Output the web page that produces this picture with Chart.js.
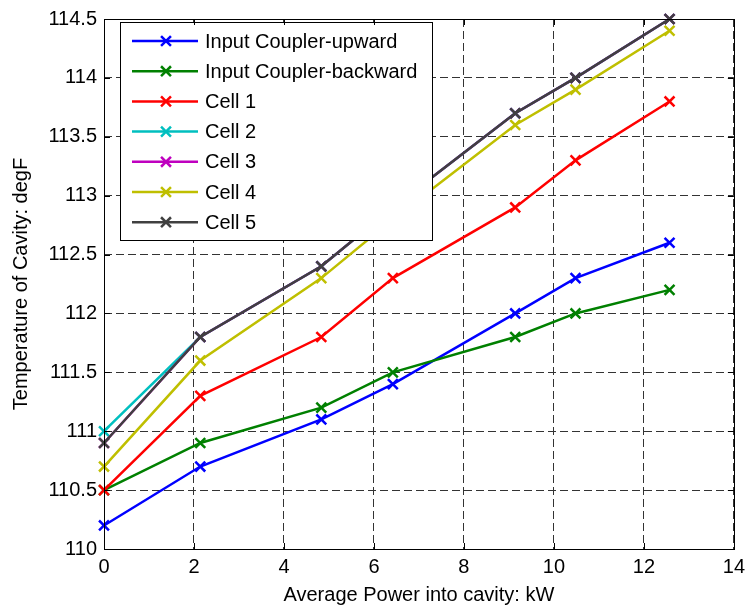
<!DOCTYPE html>
<html>
<head>
<meta charset="utf-8">
<script src="https://cdn.jsdelivr.net/npm/chart.js@4/dist/chart.umd.min.js"></script>
<style>
  html, body { margin: 0; padding: 0; background: #fff; }
  #c { display: block; }
</style>
</head>
<body>
<canvas id="c" width="751" height="611"></canvas>
<script>
// Average power into the cavity (kW) at each measurement
const powerKW = [0, 2.14, 4.83, 6.42, 9.14, 10.48, 12.57];

// Cavity temperatures (degF) per sensor location
const seriesNames = [
  'Input Coupler-upward',
  'Input Coupler-backward',
  'Cell 1',
  'Cell 2',
  'Cell 3',
  'Cell 4',
  'Cell 5'
];
const couplerUpward   = [110.2, 110.7, 111.1, 111.4, 112.0, 112.3, 112.6];
const couplerBackward = [110.5, 110.9, 111.2, 111.5, 111.8, 112.0, 112.2];
const cell1           = [110.5, 111.3, 111.8, 112.3, 112.9, 113.3, 113.8];
const cell2           = [111.0, 111.8, 112.4, 112.9, 113.7, 114.0, 114.5];
const cell3           = [110.9, 111.8, 112.4, 112.9, 113.7, 114.0, 114.5];
const cell4           = [110.7, 111.6, 112.3, 112.8, 113.6, 113.9, 114.4];
const cell5           = [110.9, 111.8, 112.4, 112.9, 113.7, 114.0, 114.5];

const seriesColors = ['#0000ff', '#008000', '#ff0000', '#00bfbf', '#bf00bf', '#bfbf00', '#404040'];

const xTicks = [0, 2, 4, 6, 8, 10, 12, 14];
const yTicks = [110, 110.5, 111, 111.5, 112, 112.5, 113, 113.5, 114, 114.5];

const xTitle = 'Average Power into cavity: kW';
const yTitle = 'Temperature of Cavity: degF';

const FONT = "'Liberation Sans', Arial, Helvetica, sans-serif";
const allSeries = [couplerUpward, couplerBackward, cell1, cell2, cell3, cell4, cell5];

const MARK_R = 7;

const datasets = allSeries.map((vals, i) => ({
  label: seriesNames[i],
  data: vals.map((y, k) => ({ x: powerKW[k], y })),
  borderColor: seriesColors[i],
  backgroundColor: seriesColors[i],
  borderWidth: 2.5,
  pointStyle: 'crossRot',
  pointRadius: MARK_R,
  pointBorderWidth: 2.5,
  pointHoverRadius: MARK_R,
  tension: 0,
  fill: false,
  clip: false,
  order: allSeries.length - i   // later series are painted on top
}));

// MATLAB-style frame: full box with inward tick marks, plus a boxed legend
const framePlugin = {
  id: 'frame',
  afterDatasetsDraw(chart) {
    const ctx = chart.ctx;
    const L = { left: 120.5, top: 22.5, right: 432.5, bottom: 240.5 };
    ctx.save();
    ctx.fillStyle = '#ffffff';
    ctx.fillRect(L.left, L.top, L.right - L.left, L.bottom - L.top);
    ctx.strokeStyle = '#000000';
    ctx.lineWidth = 1;
    ctx.strokeRect(L.left, L.top, L.right - L.left, L.bottom - L.top);
    ctx.font = '20px ' + FONT;
    ctx.textBaseline = 'middle';
    ctx.textAlign = 'left';
    chart.data.datasets.forEach((ds, i) => {
      const y = 41 + i * 30.2;
      ctx.strokeStyle = ds.borderColor;
      ctx.lineWidth = 2.5;
      ctx.beginPath();
      ctx.moveTo(132, y);
      ctx.lineTo(198, y);
      ctx.stroke();
      Chart.helpers.drawPoint(ctx, { pointStyle: 'crossRot', radius: MARK_R, borderWidth: 2.5 }, 166, y);
      ctx.fillStyle = '#000000';
      ctx.fillText(ds.label, 205, y + 1);
    });
    ctx.restore();
  },
  afterDraw(chart) {
    const { ctx, chartArea: a, scales } = chart;
    const tl = 6;
    ctx.save();
    ctx.strokeStyle = '#000000';
    ctx.lineWidth = 1;
    ctx.beginPath();
    scales.x.ticks.forEach(t => {
      const px = Math.round(scales.x.getPixelForValue(t.value)) + 0.5;
      ctx.moveTo(px, a.bottom); ctx.lineTo(px, a.bottom - tl);
      ctx.moveTo(px, a.top); ctx.lineTo(px, a.top + tl);
    });
    scales.y.ticks.forEach(t => {
      const py = Math.round(scales.y.getPixelForValue(t.value)) + 0.5;
      ctx.moveTo(a.left, py); ctx.lineTo(a.left + tl, py);
      ctx.moveTo(a.right, py); ctx.lineTo(a.right - tl, py);
    });
    ctx.stroke();
    ctx.strokeRect(Math.round(a.left) + 0.5, Math.round(a.top) + 0.5,
                   Math.round(a.right - a.left), Math.round(a.bottom - a.top));
    ctx.restore();
  }
};

new Chart(document.getElementById('c'), {
  type: 'line',
  data: { datasets },
  options: {
    responsive: false,
    animation: false,
    devicePixelRatio: 1,
    layout: { padding: { top: 17, right: 16, left: 0, bottom: 0 } },
    plugins: {
      legend: { display: false },
      tooltip: { enabled: false },
      title: { display: false }
    },
    scales: {
      x: {
        type: 'linear',
        min: 0,
        max: 14,
        afterBuildTicks: s => { s.ticks = xTicks.map(v => ({ value: v })); },
        afterFit: s => { s.height = 62; },
        ticks: {
          padding: 6,
          color: '#000',
          font: { family: FONT, size: 20 },
          callback: v => String(v)
        },
        grid: { color: '#333333', lineWidth: 1, drawTicks: false },
        border: { display: false, dash: [8, 4] },
        title: {
          display: true,
          text: xTitle,
          color: '#000',
          font: { family: FONT, size: 20 },
          padding: { top: 0, bottom: 4 }
        }
      },
      y: {
        type: 'linear',
        min: 110,
        max: 114.5,
        afterBuildTicks: s => { s.ticks = yTicks.map(v => ({ value: v })); },
        afterFit: s => { s.width = 104; },
        ticks: {
          padding: 7,
          color: '#000',
          font: { family: FONT, size: 20 },
          callback: v => String(v)
        },
        grid: { color: '#333333', lineWidth: 1, drawTicks: false },
        border: { display: false, dash: [8, 4] },
        title: {
          display: true,
          text: yTitle,
          color: '#000',
          font: { family: FONT, size: 20 },
          padding: { top: 9, bottom: 0 }
        }
      }
    }
  },
  plugins: [framePlugin]
});
</script>
</body>
</html>
